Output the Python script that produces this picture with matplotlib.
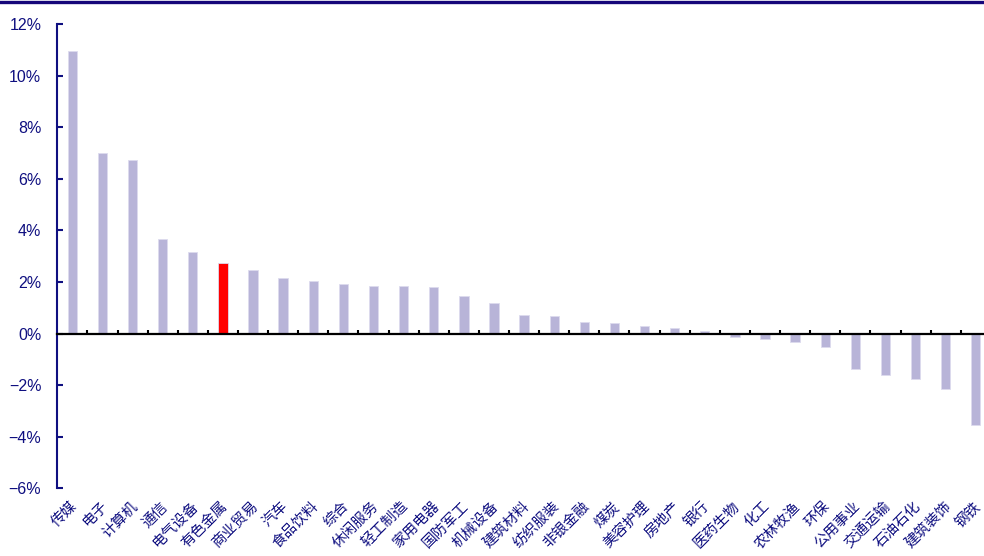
import matplotlib
matplotlib.use("Agg")
import matplotlib.pyplot as plt
import matplotlib.transforms as mtransforms
from matplotlib.lines import Line2D
import numpy as np

# ── Data: industry returns (%) ────────────────────────────────────────────────
industries = ["传媒", "电子", "计算机", "通信", "电气设备", "有色金属", "商业贸易",
              "汽车", "食品饮料", "综合", "休闲服务", "轻工制造", "家用电器", "国防军工",
              "机械设备", "建筑材料", "纺织服装", "非银金融", "煤炭", "美容护理", "房地产",
              "银行", "医药生物", "化工", "农林牧渔", "环保", "公用事业", "交通运输",
              "石油石化", "建筑装饰", "钢铁"]
returns = [10.97, 6.99, 6.72, 3.66, 3.16, 2.73, 2.46,
           2.15, 2.03, 1.91, 1.84, 1.84, 1.80, 1.45,
           1.17, 0.70, 0.67, 0.43, 0.39, 0.30, 0.23,
           0.08, -0.14, -0.21, -0.34, -0.52, -1.36, -1.59,
           -1.77, -2.15, -3.56]
highlight = "有色金属"
yticks = [-6, -4, -2, 0, 2, 4, 6, 8, 10, 12]

NAVY = "#0f0f80"
BAR = "#b8b4d8"

fig = plt.figure(figsize=(9.84, 5.56), dpi=100)
ax = fig.add_axes([0.0582, 0.1218, 0.9488, 0.835])

x = np.arange(len(industries))
colors = ["#ff0000" if n == highlight else BAR for n in industries]
ax.bar(x, returns, width=0.31, color=colors, edgecolor="#dddbee", linewidth=0.6, zorder=2)

ax.set_xlim(-0.5, len(industries) - 0.5)
ax.set_ylim(-6, 12)

# y axis: navy spine with inward ticks
ax.set_yticks(yticks)
ax.set_yticklabels([f"{v}%".replace("-", "\u2212") for v in yticks],
                   fontfamily="Liberation Sans", fontsize=11.5, color=NAVY)
ax.tick_params(axis="y", direction="in", length=4.5, width=1.5, color=NAVY, pad=11.5)
ax.spines["left"].set_color(NAVY)
ax.spines["left"].set_linewidth(1.5)

# x axis sits on zero, ticks between categories
ax.spines["bottom"].set_position(("data", 0))
ax.spines["bottom"].set_color("black")
ax.spines["bottom"].set_linewidth(1.6)
ax.spines["bottom"].set_zorder(3)
ax.set_xticks(x + 0.5)
ax.set_xticklabels([])
ax.tick_params(axis="x", direction="in", length=3, width=1.5, color="black")
ax.spines[["top", "right"]].set_visible(False)

# category names below the plot, rotated 45°
offset = mtransforms.ScaledTranslation(0, -0.11, fig.dpi_scale_trans)
trans = ax.get_xaxis_transform() + offset
for i, name in enumerate(industries):
    ax.text(i - 0.07, 0, name, transform=trans, rotation=45, ha="right", va="top",
            rotation_mode="anchor", fontsize=10.5, color=NAVY,
            fontfamily=["Noto Sans CJK SC", "DejaVu Sans"])

# thick rule along the top edge
fig.add_artist(Line2D([0, 1], [1 - 2.3 / 556, 1 - 2.3 / 556], transform=fig.transFigure,
                      color="#16067a", linewidth=2.4))

fig.savefig("out.png", dpi=100)
